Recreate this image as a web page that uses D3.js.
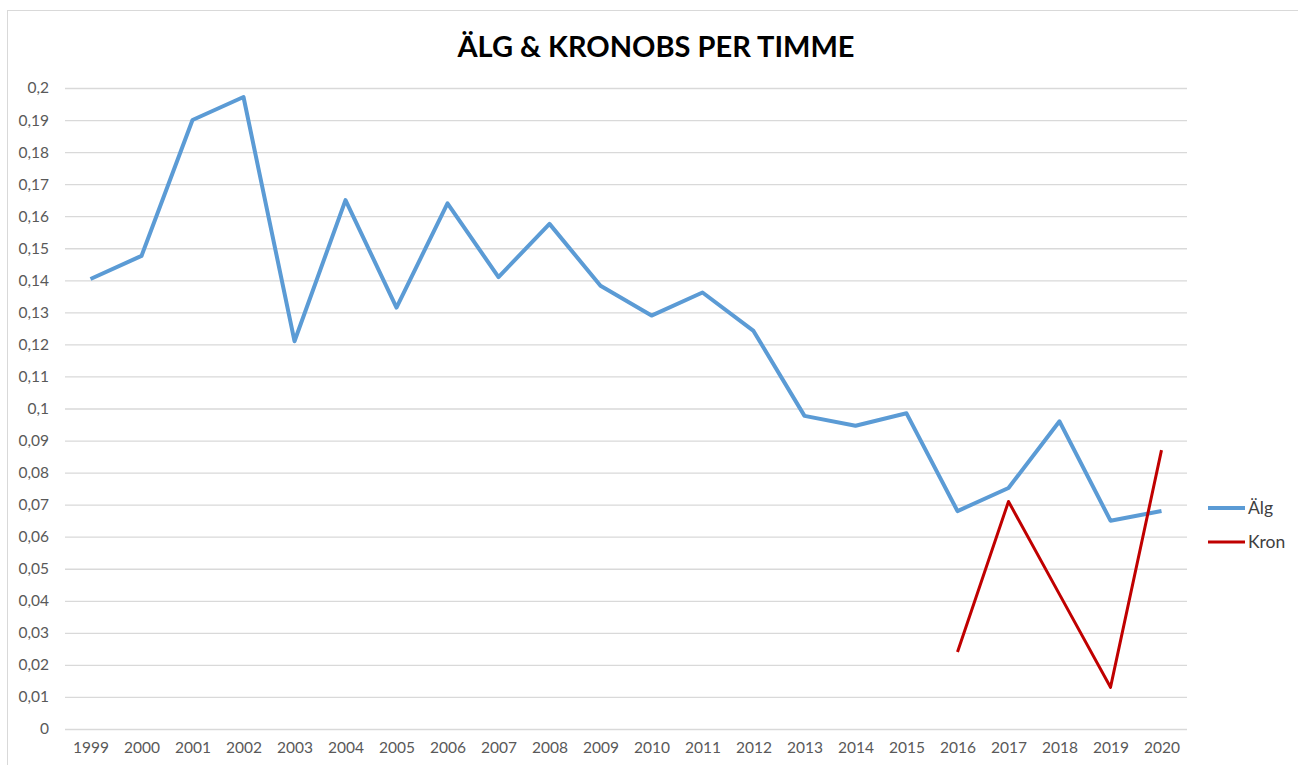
<!DOCTYPE html>
<html>
<head>
<meta charset="utf-8">
<script src="https://cdn.jsdelivr.net/npm/d3@7"></script>
<style>
  body { margin: 0; background: #fff; }
  text { font-family: Lato, Calibri, "Open Sans", sans-serif; }
</style>
</head>
<body>
<div id="chart"></div>
<script>
const years = ['1999', '2000', '2001', '2002', '2003', '2004', '2005', '2006', '2007', '2008', '2009',
  '2010', '2011', '2012', '2013', '2014', '2015', '2016', '2017', '2018', '2019', '2020']
const alg = [0.1404, 0.1476, 0.190, 0.1972, 0.121, 0.165, 0.1315, 0.164, 0.141, 0.1576, 0.1383,
  0.129, 0.1362, 0.1242, 0.0977, 0.0946, 0.0985, 0.068, 0.0752, 0.096, 0.065, 0.068]
const kron = [null, null, null, null, null, null, null, null, null, null, null,
  null, null, null, null, null, null, 0.024, 0.071, 0.042, 0.013, 0.087]
const yTicks = d3.range(0, 21).map(d => d / 100)
const seriesNames = ['Älg', 'Kron']

const width = 1298
const height = 765
const plot = { left: 65, right: 1187, top: 88, bottom: 729 }

const svg = d3.select('#chart')
  .append('svg')
  .attr('width', width)
  .attr('height', height)

// chart frame
svg.append('rect')
  .attr('x', 7.5)
  .attr('y', 10.5)
  .attr('width', width + 20)
  .attr('height', height + 20)
  .attr('fill', 'none')
  .attr('stroke', '#d9d9d9')

const x = d3.scalePoint()
  .domain(years)
  .range([plot.left, plot.right])
  .padding(0.5)

const y = d3.scaleLinear()
  .domain([0, 0.2])
  .range([plot.bottom, plot.top])

const fmt = d => String(+d.toFixed(2)).replace('.', ',')

// gridlines + y labels
const yAxis = svg.append('g')
  .attr('transform', `translate(${plot.left}, 0)`)
  .call(d3.axisLeft(y).tickValues(yTicks).tickFormat(fmt).tickSize(-(plot.right - plot.left)).tickPadding(16))
yAxis.select('.domain').remove()
yAxis.selectAll('.tick line').attr('stroke', '#d9d9d9').attr('stroke-width', 1.3)
yAxis.selectAll('.tick text')
  .attr('fill', '#595959')
  .style('font-size', '15.5px')

// x labels
const xAxis = svg.append('g')
  .attr('transform', `translate(0, ${plot.bottom})`)
  .call(d3.axisBottom(x).tickSize(0).tickPadding(13))
xAxis.select('.domain').remove()
xAxis.selectAll('.tick text')
  .attr('fill', '#595959')
  .style('font-size', '15.5px')

const line = d3.line()
  .defined(d => d != null)
  .x((d, i) => x(years[i]))
  .y(d => y(d))

svg.append('path')
  .datum(alg)
  .attr('fill', 'none')
  .attr('stroke', '#5b9bd5')
  .attr('stroke-width', 4)
  .attr('stroke-linejoin', 'round')
  .attr('d', line)

svg.append('path')
  .datum(kron)
  .attr('fill', 'none')
  .attr('stroke', '#c00000')
  .attr('stroke-width', 3)
  .attr('stroke-linejoin', 'round')
  .attr('d', line)

// title
svg.append('text')
  .attr('x', 656)
  .attr('y', 57)
  .attr('text-anchor', 'middle')
  .style('font-size', '29px')
  .style('font-weight', 'bold')
  .attr('fill', '#000')
  .text('ÄLG & KRONOBS PER TIMME')

// legend
const colors = ['#5b9bd5', '#c00000']
const widths = [4, 3]
const legend = svg.append('g')
  .selectAll('g')
  .data(seriesNames)
  .join('g')
  .attr('transform', (d, i) => `translate(1208, ${508 + i * 34})`)

legend.append('line')
  .attr('x1', 0)
  .attr('x2', 37)
  .attr('stroke', (d, i) => colors[i])
  .attr('stroke-width', (d, i) => widths[i])

legend.append('text')
  .attr('x', 40)
  .attr('dy', '0.35em')
  .attr('fill', '#404040')
  .style('font-size', '17.5px')
  .text(d => d)
</script>
</body>
</html>
